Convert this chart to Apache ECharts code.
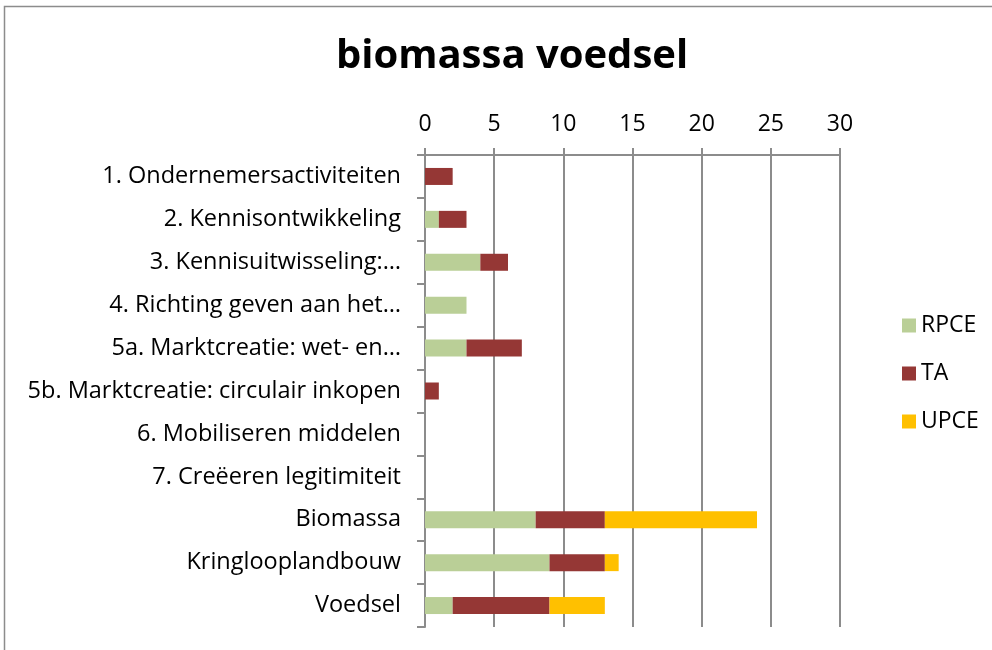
<!DOCTYPE html>
<html>
<head>
<meta charset="utf-8">
<script src="https://cdn.jsdelivr.net/npm/echarts@6/dist/echarts.min.js"></script>
<style>
  html, body { margin: 0; padding: 0; background: #fff; }
  #chart { width: 992px; height: 650px; }
</style>
</head>
<body>
<div id="chart"></div>
<script>
var categories = [
  '1. Ondernemersactiviteiten',
  '2. Kennisontwikkeling',
  '3. Kennisuitwisseling:…',
  '4. Richting geven aan het…',
  '5a. Marktcreatie: wet- en…',
  '5b. Marktcreatie: circulair inkopen',
  '6. Mobiliseren middelen',
  '7. Creëeren legitimiteit',
  'Biomassa',
  'Kringlooplandbouw',
  'Voedsel'
];
var rpce = [0, 1, 4, 3, 3, 0, 0, 0, 8, 9, 2];
var ta   = [2, 2, 2, 0, 4, 1, 0, 0, 5, 4, 7];
var upce = [0, 0, 0, 0, 0, 0, 0, 0, 11, 1, 4];
var xTicks = [0, 5, 10, 15, 20, 25, 30];

var font = '"Open Sans", sans-serif';
var chart = echarts.init(document.getElementById('chart'));

function bar(name, data, color) {
  return {
    name: name,
    type: 'bar',
    stack: 'total',
    data: data,
    barWidth: 17,
    itemStyle: { color: color },
    emphasis: { disabled: true }
  };
}

chart.setOption({
  animation: false,
  title: {
    text: 'biomassa voedsel',
    left: 507,
    top: 32,
    textAlign: 'center',
    textStyle: { fontFamily: font, fontSize: 40, fontWeight: 'bold', color: '#000' }
  },
  graphic: [{
    type: 'rect',
    shape: { x: 4.5, y: 6.5, width: 1200, height: 800 },
    style: { fill: 'none', stroke: '#8c8c8c', lineWidth: 1.5 }
  }],
  legend: {
    orient: 'vertical',
    left: 897,
    top: 309,
    itemWidth: 14,
    itemHeight: 14,
    itemGap: 25,
    icon: 'rect',
    textStyle: { fontFamily: font, fontSize: 23, color: '#000' },
    data: ['RPCE', 'TA', 'UPCE']
  },
  grid: { left: 425, right: 152, top: 155, bottom: 23, containLabel: false },
  xAxis: {
    type: 'value',
    position: 'top',
    min: xTicks[0],
    max: xTicks[xTicks.length - 1],
    interval: 5,
    axisLine: { show: true, lineStyle: { color: '#8c8c8c', width: 2 } },
    axisTick: { show: true, length: 7, lineStyle: { color: '#8c8c8c', width: 2 } },
    splitLine: { show: true, lineStyle: { color: '#8c8c8c', width: 2 } },
    axisLabel: { fontFamily: font, fontSize: 23, color: '#000', margin: 19 }
  },
  yAxis: {
    type: 'category',
    inverse: true,
    data: categories,
    axisLine: { show: true, lineStyle: { color: '#8c8c8c', width: 2 } },
    axisTick: { show: true, length: 8, lineStyle: { color: '#8c8c8c', width: 2 } },
    axisLabel: { fontFamily: font, fontSize: 23.5, color: '#000', margin: 24 }
  },
  series: [
    bar('RPCE', rpce, '#bacf97'),
    bar('TA', ta, '#953735'),
    bar('UPCE', upce, '#ffc000')
  ]
});
</script>
</body>
</html>
